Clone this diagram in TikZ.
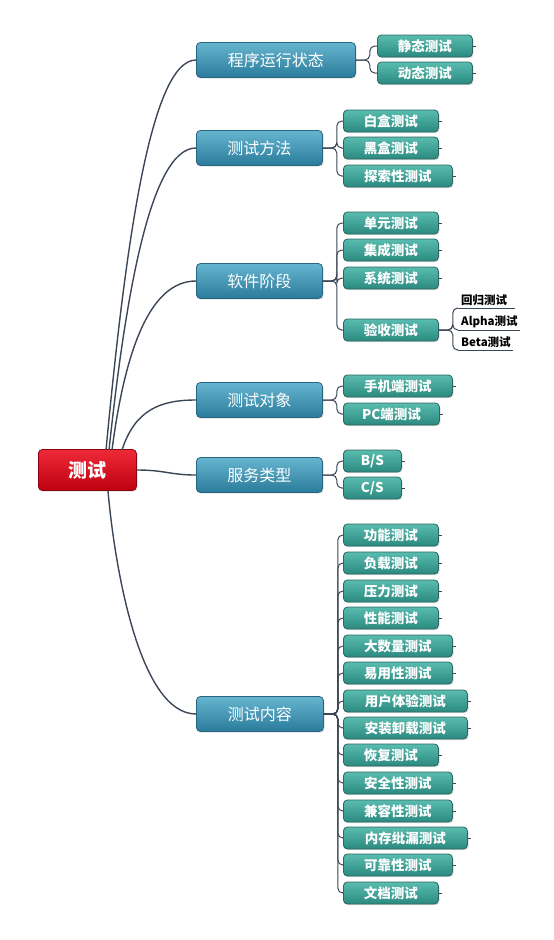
\documentclass[tikz,border=0pt]{standalone}
\usepackage{fontspec}
\setmainfont{Noto Sans CJK SC}
\usetikzlibrary{shadows}
\definecolor{l1top}{HTML}{66B5D0}
\definecolor{l1bot}{HTML}{2A7B9B}
\definecolor{l1bd}{HTML}{2A6580}
\definecolor{l2top}{HTML}{5ABBAF}
\definecolor{l2bot}{HTML}{2A8A80}
\definecolor{l2bd}{HTML}{2D6660}
\definecolor{rtop}{HTML}{EE2A38}
\definecolor{rbot}{HTML}{BE000E}
\definecolor{rbd}{HTML}{8E0010}
\definecolor{link}{HTML}{3B4756}
\tikzset{
  box/.style={rounded corners=4pt, text=white, inner sep=0pt, line width=0.8pt,
    drop shadow={shadow xshift=1.2pt, shadow yshift=-1.2pt, opacity=0.25}},
  rootbox/.style={box, draw=rbd, top color=rtop, bottom color=rbot,
    minimum width=98pt, minimum height=41pt, font=\fontsize{19}{21}\selectfont\bfseries, anchor=west},
  lvone/.style={box, draw=l1bd, top color=l1top, bottom color=l1bot,
    minimum height=35pt, font=\fontsize{16}{18}\selectfont, anchor=west},
  lvtwo/.style={box, draw=l2bd, top color=l2top, bottom color=l2bot,
    minimum height=22pt, font=\fontsize{13.5}{15}\selectfont\bfseries, anchor=west},
  lvthree/.style={anchor=south west, inner xsep=3pt, inner ysep=2pt, text=black,
    font=\fontsize{11.5}{13}\selectfont\bfseries, align=left},
  mainlink/.style={draw=link, line width=1.4pt},
  sublink/.style={draw=link, line width=1pt, rounded corners=5pt},
}
\begin{document}
\begin{tikzpicture}[x=1pt,y=-1pt]
\useasboundingbox (0,0) rectangle (554,940);
% root
\node[rootbox] (r) at (38,470) {测试};
% level 1
\node[lvone, minimum width=159pt] (p1) at (196,60) {程序运行状态};
\node[lvone, minimum width=126pt] (p2) at (196,148) {测试方法};
\node[lvone, minimum width=126pt] (p3) at (196,281) {软件阶段};
\node[lvone, minimum width=126pt] (p4) at (196,400) {测试对象};
\node[lvone, minimum width=126pt] (p5) at (196,475) {服务类型};
\node[lvone, minimum width=127pt] (p6) at (196,714) {测试内容};
% root connectors
\coordinate (s1) at (106,450);
\coordinate (s2) at (109,450);
\coordinate (s3) at (112,450);
\coordinate (s4) at (122,450);
\coordinate (s6) at (108,491);
\draw[mainlink] (s1) .. controls (125,250) and (150,60) .. (p1.west);
\draw[mainlink] (s2) .. controls (125,300) and (150,148) .. (p2.west);
\draw[mainlink] (s3) .. controls (125,350) and (150,281) .. (p3.west);
\draw[mainlink] (s4) .. controls (135,410) and (160,400) .. (p4.west);
\draw[mainlink] (r.east) .. controls (165,470) and (170,475) .. (p5.west);
\draw[mainlink] (s6) .. controls (115,570) and (140,714) .. (p6.west);
% level 2
\node[lvtwo, minimum width=95pt] (a1) at (377,46) {静态测试};
\node[lvtwo, minimum width=95pt] (a2) at (377,73) {动态测试};
\node[lvtwo, minimum width=95pt] (b1) at (343,121) {白盒测试};
\node[lvtwo, minimum width=95pt] (b2) at (343,148) {黑盒测试};
\node[lvtwo, minimum width=109pt] (b3) at (343,176) {探索性测试};
\node[lvtwo, minimum width=95pt] (c1) at (343,223) {单元测试};
\node[lvtwo, minimum width=95pt] (c2) at (343,250) {集成测试};
\node[lvtwo, minimum width=95pt] (c3) at (343,278) {系统测试};
\node[lvtwo, minimum width=95pt] (c4) at (343,330) {验收测试};
\node[lvtwo, minimum width=109pt] (d1) at (343,386) {手机端测试};
\node[lvtwo, minimum width=96pt] (d2) at (343,414) {PC端测试};
\node[lvtwo, minimum width=58pt] (e1) at (343,461) {B/S};
\node[lvtwo, minimum width=58pt] (e2) at (343,488) {C/S};
\foreach \t/\y/\w [count=\i] in {
  功能测试/535/95, 负载测试/563/95, 压力测试/591/95, 性能测试/618/95,
  大数量测试/646/109, 易用性测试/673/109, 用户体验测试/701/124,
  安装卸载测试/728/124, 恢复测试/755/95, 安全性测试/783/109,
  兼容性测试/811/109, 内存纰漏测试/838/124, 可靠性测试/865/109, 文档测试/893/95}
  \node[lvtwo, minimum width=\w pt] (f\i) at (343,\y) {\t};
% level 2 connectors
\foreach \c in {a1,a2} \draw[sublink] (p1.east) -- ++(14,0) |- (\c.west);
\foreach \c in {b1,b2,b3} \draw[sublink] (p2.east) -- ++(14,0) |- (\c.west);
\foreach \c in {c1,c2,c3,c4} \draw[sublink] (p3.east) -- ++(14,0) |- (\c.west);
\foreach \c in {d1,d2} \draw[sublink] (p4.east) -- ++(14,0) |- (\c.west);
\foreach \c in {e1,e2} \draw[sublink] (p5.east) -- ++(14,0) |- (\c.west);
\foreach \i in {1,...,14} \draw[sublink] (p6.east) -- ++(14,0) |- (f\i.west);
% small ticks on the right of level-2 boxes
\foreach \n in {a1,a2,b1,b2,b3,c1,c2,c3,d1,d2,e1,e2,f1,f2,f3,f4,f5,f6,f7,f8,f9,f10,f11,f12,f13,f14}
  \draw[link, line width=0.8pt] (\n.east) -- ++(3,0);
% level 3
\node[lvthree, text width=51pt] (g1) at (458,308) {回归测试};
\node[lvthree, text width=56pt] (g2) at (458,330) {Alpha测试};
\node[lvthree, text width=49pt] (g3) at (458,350) {Beta测试};
\foreach \g in {g1,g2,g3} \draw[link, line width=0.9pt] (\g.south west) -- (\g.south east);
\foreach \g in {g1,g2,g3} \draw[sublink] (c4.east) -- ++(14,0) |- (\g.south west);
\end{tikzpicture}
\end{document}
